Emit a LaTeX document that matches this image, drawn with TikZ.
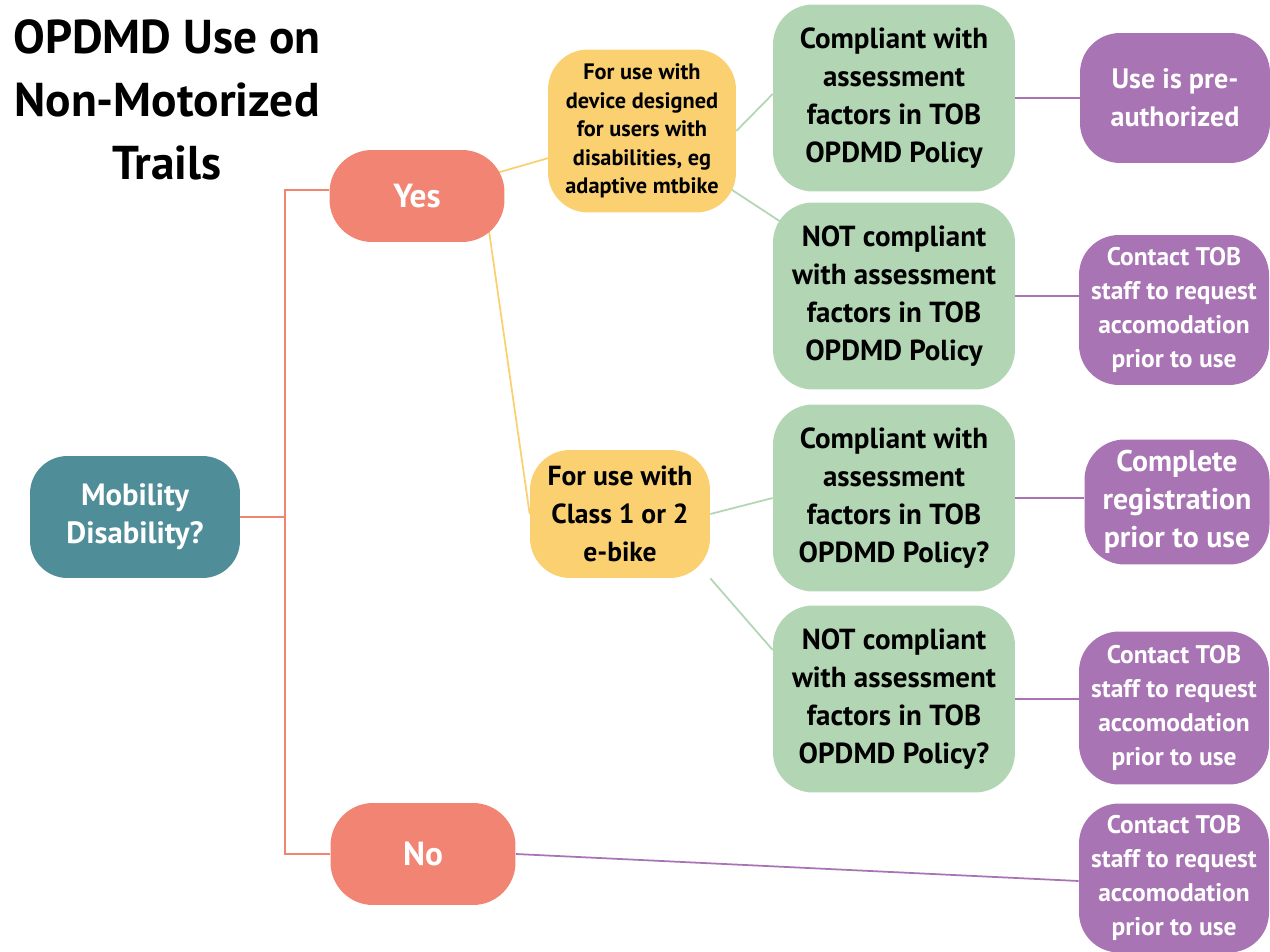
\documentclass[tikz,border=0pt]{standalone}
\usepackage{fontspec}
\setmainfont{PT Sans}
\usetikzlibrary{positioning, backgrounds, calc}

\definecolor{tealbox}{RGB}{79,141,152}
\definecolor{salmon}{RGB}{241,132,115}
\definecolor{sunny}{RGB}{250,208,113}
\definecolor{sage}{RGB}{178,214,180}
\definecolor{plum}{RGB}{168,116,180}

\begin{document}
\begin{tikzpicture}[
    x=0.02cm, y=-0.02cm,
    every node/.style={align=center, font=\bfseries, inner sep=2pt},
    start/.style={fill=tealbox, text=white, rounded corners=0.75cm, minimum width=4.2cm, minimum height=2.44cm, font=\bfseries\fontsize{17.5}{21.6}\selectfont},
    answer/.style={fill=salmon, text=white, rounded corners=0.85cm, minimum width=3.5cm, font=\bfseries\fontsize{19}{21.6}\selectfont},
    device/.style={fill=sunny, text=black, rounded corners=0.8cm},
    factor/.style={fill=sage, text=black, rounded corners=0.8cm, minimum width=4.84cm, minimum height=3.74cm, font=\bfseries\fontsize{16.5}{21.6}\selectfont},
    result/.style={fill=plum, text=white, rounded corners=0.8cm, minimum width=3.8cm},
    pinkline/.style={draw=salmon, line width=1pt},
    yellowline/.style={draw=sunny, line width=1pt},
    greenline/.style={draw=sage, line width=1pt},
    purpleline/.style={draw=plum, line width=1pt}
]
\useasboundingbox (0,0) rectangle (1270,952);

% Title
\node[font=\bfseries\fontsize{27}{35.8}\selectfont] (title) at (167,100) {OPDMD Use on\\Non-Motorized\\Trails};

% Nodes
\node[start] (mob) at (135,517) {Mobility\\Disability?};
\node[answer, minimum height=1.84cm] (yes) at (417,196) {Yes};
\node[answer, minimum height=2.04cm, minimum width=3.7cm] (no) at (423,854) {No};

\node[device, minimum width=3.76cm, minimum height=3.26cm, font=\bfseries\fontsize{12.7}{16.2}\selectfont] (adapt) at (642,131) {For use with\\device designed\\for users with\\disabilities, eg\\adaptive mtbike};
\node[device, minimum width=3.6cm, minimum height=2.56cm, font=\bfseries\fontsize{15.7}{21.6}\selectfont] (ebike) at (620,514) {For use with\\Class 1 or 2\\e-bike};

\node[factor] (comp1) at (894,98) {Compliant with\\assessment\\factors in TOB\\OPDMD Policy};
\node[factor] (notc1) at (894,296) {NOT compliant\\with assessment\\factors in TOB\\OPDMD Policy};
\node[factor] (comp2) at (894,498) {Compliant with\\assessment\\factors in TOB\\OPDMD Policy?};
\node[factor] (notc2) at (894,699) {NOT compliant\\with assessment\\factors in TOB\\OPDMD Policy?};

\node[result, minimum height=2.6cm, font=\bfseries\fontsize{16}{21.6}\selectfont] (pre) at (1175,98) {Use is pre-\\authorized};
\node[result, minimum height=3cm, font=\bfseries\fontsize{14.5}{19.3}\selectfont] (req1) at (1174,310) {Contact TOB\\staff to request\\accomodation\\prior to use};
\node[result, minimum height=2.5cm, minimum width=3.7cm, font=\bfseries\fontsize{17}{21.6}\selectfont] (reg) at (1177,502) {Complete\\registration\\prior to use};
\node[result, minimum height=3.06cm, font=\bfseries\fontsize{14.5}{19.3}\selectfont] (req2) at (1174,708) {Contact TOB\\staff to request\\accomodation\\prior to use};
\node[result, minimum height=2.98cm, font=\bfseries\fontsize{14.5}{19.3}\selectfont] (req3) at (1174,878) {Contact TOB\\staff to request\\accomodation\\prior to use};

% Connectors
\begin{scope}[on background layer]
\coordinate (fork) at (285,517);
\draw[pinkline] (mob.east) -- (fork);
\draw[pinkline] (fork) |- ([yshift=0.12cm]yes.west);
\draw[pinkline] (fork) |- (no.west);

\draw[yellowline] (yes.center) -- (adapt.center);
\draw[yellowline] ([xshift=1.34cm]yes.center) -- (ebike.west);

\draw[greenline] (adapt.east) -- ([yshift=0.08cm]comp1.west);
\draw[greenline] (adapt.center) -- (notc1.center);
\draw[greenline] (ebike.east) -- (comp2.west);
\draw[greenline] (ebike.south east) -- (notc2.158);

\draw[purpleline] (comp1.east) -- (pre.west);
\draw[purpleline] (notc1.east) -- (notc1.east -| req1.west);
\draw[purpleline] (comp2.east) -- (comp2.east -| reg.west);
\draw[purpleline] (notc2.east) -- (notc2.east -| req2.west);
\draw[purpleline] (no.east) -- ([yshift=-0.06cm]req3.west);
\end{scope}

\end{tikzpicture}
\end{document}
